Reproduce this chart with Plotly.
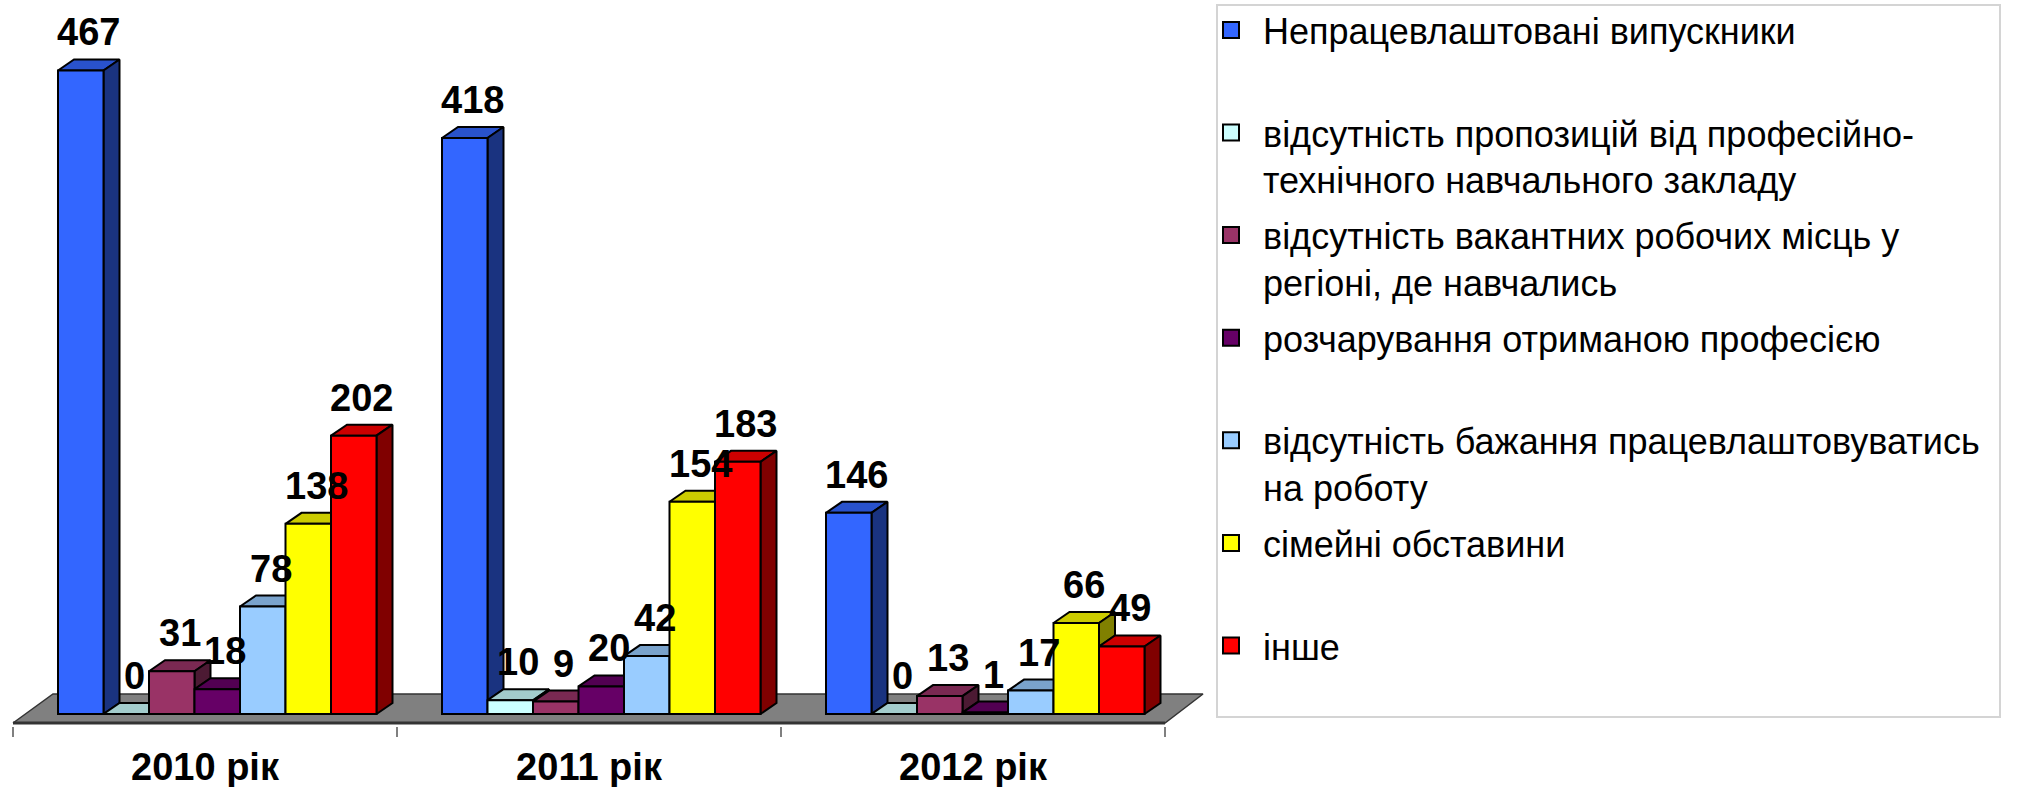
import plotly.graph_objects as go

# ---------------- data ----------------
categories = ["2010 рік", "2011 рік", "2012 рік"]
series_names = [
    "Непрацевлаштовані випускники<br> ",
    "відсутність пропозицій від професійно-<br>технічного навчального закладу",
    "відсутність вакантних робочих місць у<br>регіоні, де навчались",
    "розчарування отриманою професією<br> ",
    "відсутність бажання працевлаштовуватись<br>на роботу",
    "сімейні обставини<br> ",
    "інше",
]
unemployed = [467, 418, 146]
no_offers = [0, 10, 0]
no_vacancies = [31, 9, 13]
disappointed = [18, 20, 1]
no_desire = [78, 42, 17]
family = [138, 154, 66]
other = [202, 183, 49]
series_values = [unemployed, no_offers, no_vacancies, disappointed, no_desire, family, other]
colors = ["#3366FF", "#CCFFFF", "#993366", "#660066", "#99CCFF", "#FFFF00", "#FF0000"]

# ---------------- layout geometry (pixels) ----------------
W_PX, H_PX = 2019, 787
CAT_PX = 384.0
X0_PX = 13.0
PLOT_R_PX = 1210.0
ZERO_PX = 714.0
PLOT_B_PX = 726.0
PPU = 1.378
FONT = "Liberation Sans, Arial, sans-serif"

x_range = [-X0_PX / CAT_PX, (PLOT_R_PX - X0_PX) / CAT_PX]
y_range = [-(PLOT_B_PX - ZERO_PX) / PPU, ZERO_PX / PPU]

GROUP_START = 45.0 / CAT_PX
BAR_W = 45.5 / CAT_PX
DX = 16.0 / CAT_PX
DY = 11.0 / PPU

FLOOR_FRONT_Y = -(723.0 - ZERO_PX) / PPU
FLOOR_BACK_Y = (ZERO_PX - 694.0) / PPU
FLOOR_BACK_DX = 40.0 / CAT_PX
FLOOR_BACK_DX_R = 38.0 / CAT_PX


def shade(hexcol, f):
    h = hexcol.lstrip("#")
    r, g, b = (int(h[k:k + 2], 16) for k in (0, 2, 4))
    return "rgb(%d,%d,%d)" % (round(r * f), round(g * f), round(b * f))


n_cat = len(categories)
fig = go.Figure()

# floor
fx = [0, n_cat, n_cat + FLOOR_BACK_DX_R, FLOOR_BACK_DX, 0]
fy = [FLOOR_FRONT_Y, FLOOR_FRONT_Y, FLOOR_BACK_Y, FLOOR_BACK_Y, FLOOR_FRONT_Y]
fig.add_trace(go.Scatter(x=fx, y=fy, mode="lines", fill="toself", fillcolor="#808080",
                         line=dict(color="#333333", width=1.5), showlegend=False,
                         hoverinfo="skip"))
fig.add_trace(go.Scatter(x=[0, n_cat], y=[FLOOR_FRONT_Y, FLOOR_FRONT_Y], mode="lines",
                         line=dict(color="#333333", width=3), showlegend=False,
                         hoverinfo="skip"))

# 3D top and side faces (drawn under the front faces)
for i in range(n_cat):
    for j, vals in enumerate(series_values):
        v = vals[i]
        xl = i + GROUP_START + j * BAR_W
        xr = xl + BAR_W
        tx = [xl, xr, xr + DX, xl + DX, xl]
        ty = [v, v, v + DY, v + DY, v]
        fig.add_trace(go.Scatter(x=tx, y=ty, mode="lines", fill="toself",
                                 fillcolor=shade(colors[j], 0.8),
                                 line=dict(color="black", width=2), showlegend=False,
                                 hoverinfo="skip"))
        low = series_values[j + 1][i] if j + 1 < len(series_values) else 0
        if v > low:
            sx = [xr, xr + DX, xr + DX, xr, xr]
            sy = [low, low + DY, v + DY, v, low]
            fig.add_trace(go.Scatter(x=sx, y=sy, mode="lines", fill="toself",
                                     fillcolor=shade(colors[j], 0.5),
                                     line=dict(color="black", width=2), showlegend=False,
                                     hoverinfo="skip"))

# front faces as bars on an overlaying axis (drawn above)
for j, (name, vals) in enumerate(zip(series_names, series_values)):
    xs = [i + GROUP_START + (j + 0.5) * BAR_W for i in range(n_cat)]
    fig.add_trace(go.Bar(x=xs, y=vals, width=BAR_W, name=name, xaxis="x2", yaxis="y2",
                         marker=dict(color=colors[j], line=dict(color="black", width=2)),
                         showlegend=False, legendgroup="g%d" % j))
    # legend swatch
    fig.add_trace(go.Scatter(x=[None], y=[None], mode="markers", name=name,
                             legendgroup="g%d" % j,
                             marker=dict(symbol="square", size=16, color=colors[j],
                                         line=dict(color="black", width=2))))

# data labels
for j, vals in enumerate(series_values):
    for i, v in enumerate(vals):
        xc = i + GROUP_START + (j + 0.5) * BAR_W + DX / 2
        fig.add_annotation(x=xc, y=v + DY, xref="x", yref="y", text=str(v),
                           showarrow=False, yanchor="bottom", yshift=4,
                           font=dict(family=FONT, size=38, color="black", weight="bold"))

# legend frame
LEG_L, LEG_T, LEG_R, LEG_B = 1217.0, 5.0, 2000.0, 717.0
plot_h = PLOT_B_PX
fig.add_shape(type="rect", xref="paper", yref="paper",
              x0=LEG_L / PLOT_R_PX, x1=LEG_R / PLOT_R_PX,
              y0=(plot_h - LEG_B) / plot_h, y1=(plot_h - LEG_T) / plot_h,
              line=dict(color="#D4D4D4", width=2), fillcolor="rgba(0,0,0,0)", layer="below")

fig.update_layout(
    width=W_PX, height=H_PX,
    margin=dict(l=0, r=W_PX - PLOT_R_PX, t=0, b=H_PX - PLOT_B_PX, autoexpand=False),
    paper_bgcolor="white", plot_bgcolor="white",
    barmode="overlay",
    showlegend=True,
    legend=dict(xref="container", yref="container",
                x=1199.0 / W_PX, y=1 + 8.0 / H_PX,
                xanchor="left", yanchor="top",
                font=dict(family=FONT, size=36, color="black"),
                valign="top", tracegroupgap=6, bgcolor="rgba(0,0,0,0)",
                borderwidth=0, itemsizing="trace", itemwidth=54, maxheight=900),
    xaxis=dict(range=x_range, tickmode="array", tickvals=[i + 0.5 for i in range(n_cat)],
               ticktext=categories, ticks="outside", ticklen=7,
               tickcolor="rgba(0,0,0,0)", showgrid=False, zeroline=False, showline=False,
               tickfont=dict(family=FONT, size=38, color="black", weight="bold"),
               minor=dict(tickmode="array", tickvals=list(range(n_cat + 1)), ticks="outside",
                          ticklen=10, tickwidth=2, tickcolor="#808080", showgrid=False),
               fixedrange=True),
    yaxis=dict(range=y_range, visible=False, fixedrange=True),
    xaxis2=dict(range=x_range, overlaying="x", visible=False, fixedrange=True),
    yaxis2=dict(range=y_range, overlaying="y", visible=False, fixedrange=True),
)

fig.write_html("out.html", config={"displayModeBar": False},
               post_script="document.body.style.margin='0';document.body.style.overflow='hidden';")
